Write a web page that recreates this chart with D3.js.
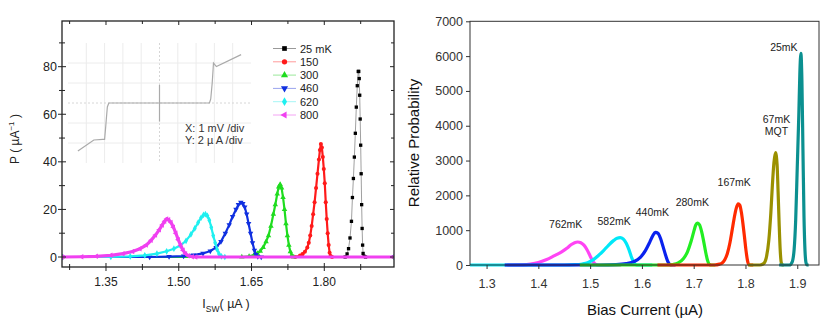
<html>
<head>
<meta charset="utf-8">
<style>
  body { margin: 0; background: #fff; }
  text { font-family: Arial, "Liberation Sans", sans-serif; }
</style>
</head>
<body>
<script src="https://d3js.org/d3.v7.min.js"></script>
<div id="my_dataviz"></div>
<script>

// ---------- left panel data: switching current distributions P(Isw) ----------
var leftTemps = ["25 mK", "150", "300", "460", "620", "800"];

var p25 = [[1.26,0],[1.843,0],[1.847,1.3],[1.85,3.5],[1.853,8],[1.856,15],[1.858,25],[1.86,33],[1.862,42],
  [1.864,52],[1.866,63],[1.868,72],[1.870,78],[1.871,78],[1.872,75],[1.873,68],[1.874,58],[1.875,47],
  [1.876,35],[1.877,22],[1.878,12],[1.879,5],[1.880,1.5],[1.882,0.3],[1.885,0],[1.944,0]];
var p150 = [[1.26,0],[1.74,0],[1.75,0.6],[1.755,1.2],[1.76,2.2],[1.765,4],[1.768,6],[1.771,9],[1.774,13],
  [1.777,18],[1.78,23],[1.783,29],[1.786,35],[1.789,41],[1.791,45],[1.793,47.5],[1.795,46],[1.797,42],
  [1.799,37],[1.801,31],[1.803,23],[1.805,16],[1.807,10],[1.809,5],[1.811,1.8],[1.813,0.4],[1.816,0],[1.944,0]];
var p300 = [[1.26,0],[1.63,0],[1.645,0.3],[1.655,0.8],[1.662,1.5],[1.668,2.5],[1.674,4],[1.68,6.5],
  [1.685,9],[1.69,13],[1.695,18],[1.699,22],[1.703,26.5],[1.706,29.5],[1.709,30.5],[1.712,29],
  [1.715,25],[1.718,20],[1.721,14],[1.724,9],[1.727,5],[1.73,2.2],[1.733,0.7],[1.737,0],[1.944,0]];
var p460 = [[1.26,0],[1.44,0],[1.48,0.2],[1.51,0.4],[1.53,0.8],[1.55,1.5],[1.565,2.5],[1.577,4],
  [1.587,6.5],[1.596,10],[1.604,13.5],[1.611,17],[1.618,20],[1.623,22],[1.628,23],[1.632,22.5],
  [1.636,21],[1.64,18],[1.644,14],[1.648,10],[1.652,6],[1.656,2.8],[1.659,1],[1.663,0.2],[1.67,0],[1.944,0]];
var p620 = [[1.26,0],[1.36,0],[1.40,0.3],[1.43,0.7],[1.455,1.4],[1.475,2.4],[1.49,3.5],[1.503,4.8],
  [1.515,6.8],[1.525,9.5],[1.533,12],[1.54,14.5],[1.546,16.5],[1.551,17.7],[1.555,18],[1.559,17.3],
  [1.563,15.5],[1.567,12.5],[1.571,9],[1.575,6],[1.579,3.2],[1.583,1.3],[1.588,0.3],[1.595,0],[1.944,0]];
var p800 = [[1.26,0],[1.30,0.1],[1.33,0.3],[1.36,0.7],[1.385,1.4],[1.405,2.3],[1.42,3.5],[1.433,5],
  [1.443,7],[1.452,9.2],[1.46,11.5],[1.466,13.5],[1.471,15],[1.475,16],[1.479,15.7],[1.484,14.5],
  [1.489,12.5],[1.494,10],[1.499,7.3],[1.504,4.8],[1.509,2.8],[1.514,1.4],[1.52,0.5],[1.528,0.1],[1.535,0],[1.944,0]];
var leftSeries = [p25, p150, p300, p460, p620, p800];

var leftXTicks = [1.35, 1.50, 1.65, 1.80];
var leftYTicks = [0, 20, 40, 60, 80];

// inset: I-V trace in scope divisions (X: 1 mV/div, Y: 2 uA/div)
var ivTrace = [[-4.46,-2.4],[-3.59,-1.85],[-3.1,-1.82],[-3.0,-1.82],[-2.95,-1.3],[-2.91,-0.85],
  [-2.85,-0.2],[-2.77,0],[0,0],[2.73,0],[2.8,0.2],[2.88,1.0],[2.93,1.7],[2.95,2.0],[3.11,1.82],[4.46,2.42]];
var ivSpike = [[0,0.9],[0,-0.93]];
var insetText = ["X: 1 mV /div", "Y: 2 \u00b5 A /div"];

// ---------- right panel data: relative probability vs bias current ----------
var rightTemps = ["762mK", "582mK", "440mK", "280mK", "167mK", "67mK", "25mK"];
var r762 = [[1.34,0],[1.37,5],[1.385,25],[1.40,70],[1.415,150],[1.43,260],[1.445,380],[1.455,480],
  [1.463,580],[1.47,640],[1.476,660],[1.482,640],[1.488,570],[1.494,440],[1.50,260],[1.505,110],
  [1.51,25],[1.516,0],[1.56,0]];
var r582 = [[1.268,0],[1.45,0],[1.47,8],[1.485,30],[1.495,65],[1.505,140],[1.515,260],[1.525,400],
  [1.535,560],[1.545,700],[1.552,770],[1.558,785],[1.564,750],[1.57,620],[1.575,440],[1.58,220],
  [1.585,60],[1.59,0],[1.62,0]];
var r440 = [[1.335,0],[1.52,0],[1.55,10],[1.57,40],[1.585,100],[1.597,220],[1.607,420],[1.615,650],
  [1.621,840],[1.626,940],[1.631,910],[1.636,760],[1.641,520],[1.646,270],[1.65,100],[1.654,15],[1.658,0],[1.665,0]];
var r280 = [[1.48,0],[1.65,0],[1.66,15],[1.67,60],[1.68,180],[1.688,380],[1.695,680],[1.70,950],
  [1.704,1150],[1.707,1200],[1.711,1160],[1.715,980],[1.719,700],[1.723,380],[1.727,120],[1.73,20],[1.734,0],[1.742,0]];
var r167 = [[1.63,0],[1.74,0],[1.75,25],[1.755,60],[1.76,150],[1.765,330],[1.77,640],[1.774,980],
  [1.778,1330],[1.782,1620],[1.786,1755],[1.789,1720],[1.792,1520],[1.795,1200],[1.798,820],
  [1.801,420],[1.804,120],[1.807,10],[1.81,0],[1.815,0]];
var r67 = [[1.805,0],[1.828,0],[1.835,40],[1.84,200],[1.845,700],[1.849,1500],[1.852,2300],
  [1.855,2950],[1.858,3230],[1.861,2900],[1.863,2100],[1.865,1200],[1.867,450],[1.869,80],[1.871,0],[1.874,0]];
var r25 = [[1.865,0],[1.885,0],[1.89,80],[1.894,450],[1.897,1300],[1.9,2800],[1.903,4300],[1.905,5500],
  [1.907,6080],[1.909,5300],[1.911,3300],[1.913,1400],[1.915,400],[1.917,60],[1.919,0],[1.922,0]];
var rightSeries = [r762, r582, r440, r280, r167, r67, r25];

var rightXTicks = [1.3, 1.4, 1.5, 1.6, 1.7, 1.8, 1.9];
var rightYTicks = [0, 1000, 2000, 3000, 4000, 5000, 6000, 7000];

// ---------- styles ----------
var leftColors = ["#000000", "#ff1a1a", "#1fdc1f", "#1030e0", "#1ff0f0", "#f040f0"];
var leftLineColors = ["#888888", "#ff1a1a", "#1fdc1f", "#1030e0", "#1ff0f0", "#f040f0"];
var legendLineColors = ["#999999", "#ff9a9a", "#9be89b", "#9aa4ee", "#a6f6f6", "#f4a4f4"];
var symbols = [d3.symbolSquare, d3.symbolCircle, d3.symbolTriangle, d3.symbolTriangle, d3.symbolDiamond, d3.symbolTriangle];
var symbolRot = [0, 0, 0, 180, 0, -90];
var rightColors = ["#ff44f4", "#00e8f8", "#0a22ee", "#22ee22", "#ff2a00", "#9a9000", "#0b9090"];
// label offsets from each peak (px), layout only
var labelDx = [-12, -6, -3, -5, -4, 1, -17];
var labelDy = [-17, -15, -19, -20, -21, -20, -5];

var svg = d3.select("#my_dataviz")
  .append("svg")
    .attr("width", 838)
    .attr("height", 336)
    .style("display", "block");

// =============== LEFT PANEL ===============
var L = {left: 62, right: 394, top: 21, bottom: 267};
var xL = d3.scaleLinear().domain([1.2593, 1.9437]).range([L.left, L.right]);
var yL = d3.scaleLinear().domain([-4.2, 99.2]).range([L.bottom, L.top]);

var gl = svg.append("g");

// inset grid (oscilloscope picture)
var xs = d3.scaleLinear().domain([-5, 5]).range([68, 251]);
var ys = d3.scaleLinear().domain([-3, 3]).range([163, 43]);
var inset = gl.append("g");
inset.selectAll("vline").data(d3.range(-4, 5)).enter().append("line")
  .attr("x1", function(d) { return xs(d); }).attr("x2", function(d) { return xs(d); })
  .attr("y1", ys(3)).attr("y2", ys(-3))
  .attr("stroke", function(d) { return d === 0 ? "#d6d6d6" : "#ececec"; })
  .attr("stroke-width", 1)
  .attr("stroke-dasharray", function(d) { return d === 0 ? "2,2" : null; });
inset.selectAll("hline").data(d3.range(-2, 3)).enter().append("line")
  .attr("x1", xs(-5)).attr("x2", xs(5))
  .attr("y1", function(d) { return ys(d); }).attr("y2", function(d) { return ys(d); })
  .attr("stroke", function(d) { return d === 0 ? "#d6d6d6" : "#ececec"; })
  .attr("stroke-width", 1)
  .attr("stroke-dasharray", function(d) { return d === 0 ? "2,2" : null; });
var ivLine = d3.line().x(function(d) { return xs(d[0]); }).y(function(d) { return ys(d[1]); });
inset.append("path").attr("d", ivLine(ivTrace))
  .attr("fill", "none").attr("stroke", "#aaaaaa").attr("stroke-width", 1.2);
inset.append("path").attr("d", ivLine(ivSpike))
  .attr("fill", "none").attr("stroke", "#aaaaaa").attr("stroke-width", 1.2);
inset.selectAll("itext").data(insetText).enter().append("text")
  .attr("x", 185).attr("y", function(d, i) { return 132 + i * 12; })
  .attr("font-size", "11px").attr("fill", "#333")
  .text(function(d) { return d; });

// clip for data
svg.append("clipPath").attr("id", "clipL")
  .append("rect").attr("x", L.left).attr("y", L.top)
  .attr("width", L.right - L.left).attr("height", L.bottom - L.top);

var lineL = d3.line().x(function(d) { return xL(d[0]); }).y(function(d) { return yL(d[1]); });
var dataL = gl.append("g").attr("clip-path", "url(#clipL)");
leftSeries.forEach(function(s, i) {
  dataL.append("path").attr("d", lineL(s))
    .attr("fill", "none")
    .attr("stroke", leftLineColors[i])
    .attr("stroke-width", i === 0 ? 0.8 : (i === 5 ? 3.2 : 2.2));
  var sym = d3.symbol().type(symbols[i]).size(i === 0 ? 11 : 13);
  dataL.selectAll(".m" + i).data(s).enter().append("path")
    .attr("d", sym)
    .attr("transform", function(d) { return "translate(" + xL(d[0]) + "," + yL(d[1]) + ") rotate(" + symbolRot[i] + ")"; })
    .attr("fill", leftColors[i]);
});

// frame + ticks
gl.append("rect").attr("x", L.left).attr("y", L.top)
  .attr("width", L.right - L.left).attr("height", L.bottom - L.top)
  .attr("fill", "none").attr("stroke", "#222").attr("stroke-width", 1.3);

var xMinor = d3.range(1.275, 1.94, 0.075);
xMinor.forEach(function(v) {
  var major = leftXTicks.some(function(t) { return Math.abs(t - v) < 1e-6; });
  var len = major ? 4 : 3;
  gl.append("line").attr("x1", xL(v)).attr("x2", xL(v))
    .attr("y1", L.bottom - len).attr("y2", L.bottom + len).attr("stroke", "#222");
  gl.append("line").attr("x1", xL(v)).attr("x2", xL(v))
    .attr("y1", L.top).attr("y2", L.top + len).attr("stroke", "#222");
});
d3.range(0, 100, 10).forEach(function(v) {
  var len = v % 20 === 0 ? 4 : 3;
  gl.append("line").attr("x1", L.left - len).attr("x2", L.left + len)
    .attr("y1", yL(v)).attr("y2", yL(v)).attr("stroke", "#222");
  gl.append("line").attr("x1", L.right - len).attr("x2", L.right)
    .attr("y1", yL(v)).attr("y2", yL(v)).attr("stroke", "#222");
});
gl.selectAll("xlab").data(leftXTicks).enter().append("text")
  .attr("x", function(d) { return xL(d); }).attr("y", 286)
  .attr("text-anchor", "middle").attr("font-size", "12px").attr("fill", "#222")
  .text(function(d) { return d.toFixed(2); });
gl.selectAll("ylab").data(leftYTicks).enter().append("text")
  .attr("x", 57).attr("y", function(d) { return yL(d) + 4.5; })
  .attr("text-anchor", "end").attr("font-size", "12.5px").attr("fill", "#222")
  .text(function(d) { return d; });

// axis titles
var yt = gl.append("text").attr("transform", "translate(19,139) rotate(-90)")
  .attr("text-anchor", "middle").attr("font-size", "12px").attr("fill", "#222");
yt.append("tspan").text("P ( \u00b5A");
yt.append("tspan").attr("font-size", "8px").attr("dy", -5).text("\u22121");
yt.append("tspan").attr("dy", 5).text(" )");
var xt = gl.append("text").attr("x", 226).attr("y", 308)
  .attr("text-anchor", "middle").attr("font-size", "12.5px").attr("fill", "#222");
xt.append("tspan").text("I");
xt.append("tspan").attr("font-size", "8.5px").attr("dy", 4).text("SW");
xt.append("tspan").attr("dy", -4).text("( \u00b5A )");

// legend
var lg = gl.append("g");
leftTemps.forEach(function(t, i) {
  var yy = 48.5 + i * 13.3;
  lg.append("line").attr("x1", 273).attr("x2", 296).attr("y1", yy).attr("y2", yy)
    .attr("stroke", legendLineColors[i]).attr("stroke-width", 1);
  lg.append("path").attr("d", d3.symbol().type(symbols[i]).size(22))
    .attr("transform", "translate(284.5," + yy + ") rotate(" + symbolRot[i] + ")")
    .attr("fill", leftColors[i]);
  lg.append("text").attr("x", 300).attr("y", yy + 4)
    .attr("font-size", "11px").attr("fill", "#222").text(t);
});

// =============== RIGHT PANEL ===============
var R = {left: 470, right: 819, top: 21.3, bottom: 265};
var xR = d3.scaleLinear().domain([1.268, 1.942]).range([R.left, R.right]);
var yR = d3.scaleLinear().domain([0, 7000]).range([R.bottom, R.top]);
var gr = svg.append("g");

svg.append("clipPath").attr("id", "clipR")
  .append("rect").attr("x", R.left).attr("y", R.top - 2)
  .attr("width", R.right - R.left).attr("height", R.bottom - R.top + 4);

var lineR = d3.line().curve(d3.curveMonotoneX)
  .x(function(d) { return xR(d[0]); }).y(function(d) { return yR(d[1]); });
var dataR = gr.append("g").attr("clip-path", "url(#clipR)");
rightSeries.forEach(function(s, i) {
  dataR.append("path").attr("d", lineR(s))
    .attr("fill", "none").attr("stroke", rightColors[i])
    .attr("stroke-width", 3.2).attr("stroke-linejoin", "round");
});

gr.append("rect").attr("x", R.left).attr("y", R.top)
  .attr("width", R.right - R.left).attr("height", R.bottom - R.top)
  .attr("fill", "none").attr("stroke", "#333").attr("stroke-width", 1);

gr.append("g").attr("transform", "translate(0," + R.bottom + ")")
  .call(d3.axisBottom(xR).tickValues(rightXTicks).tickSize(4).tickFormat(d3.format(".1f")))
  .call(function(g) {
    g.select(".domain").remove();
    g.selectAll("line").attr("stroke", "#333");
    g.selectAll("text").attr("font-size", "12.5px").attr("fill", "#333")
      .attr("font-family", "Arial, 'Liberation Sans', sans-serif").attr("dy", "1.25em");
  });
gr.append("g").attr("transform", "translate(" + R.left + ",0)")
  .call(d3.axisLeft(yR).tickValues(rightYTicks).tickSize(4).tickFormat(d3.format("d")))
  .call(function(g) {
    g.select(".domain").remove();
    g.selectAll("line").attr("stroke", "#333");
    g.selectAll("text").attr("font-size", "12.5px").attr("fill", "#333")
      .attr("font-family", "Arial, 'Liberation Sans', sans-serif").attr("x", -7);
  });

gr.append("text").attr("x", 645).attr("y", 315)
  .attr("text-anchor", "middle").attr("font-size", "15px").attr("fill", "#111")
  .text("Bias Current  (\u00b5A)");
gr.append("text").attr("transform", "translate(419,143) rotate(-90)")
  .attr("text-anchor", "middle").attr("font-size", "15px").attr("fill", "#111")
  .text("Relative Probability");

// peak labels
rightSeries.forEach(function(s, i) {
  var pk = s.reduce(function(a, b) { return b[1] > a[1] ? b : a; });
  var tx = xR(pk[0]) + labelDx[i], ty = yR(pk[1]) + labelDy[i];
  var t = gr.append("text").attr("x", tx).attr("y", ty)
    .attr("text-anchor", "middle").attr("dominant-baseline", "middle")
    .attr("font-size", "10.5px").attr("fill", "#222").text(rightTemps[i]);
  if (rightTemps[i] === "67mK") {
    t.attr("y", ty - 12);
    gr.append("text").attr("x", tx).attr("y", ty - 0.5)
      .attr("text-anchor", "middle").attr("dominant-baseline", "middle")
      .attr("font-size", "10.5px").attr("fill", "#222").text("MQT");
  }
});

</script>
</body>
</html>
